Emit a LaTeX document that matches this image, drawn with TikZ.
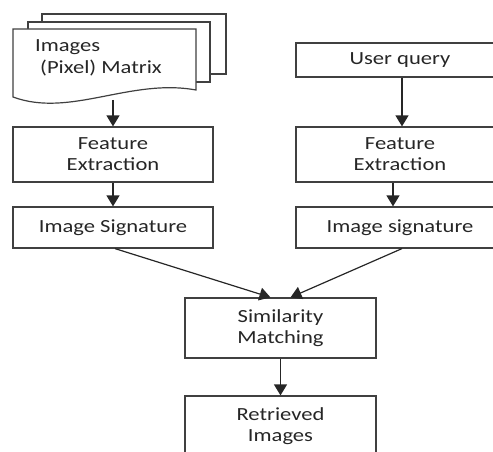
\documentclass[tikz,border=0pt]{standalone}
\usepackage{fontspec}
\setmainfont{Carlito}[FakeStretch=1.22]
\usepackage{tikz}
\usetikzlibrary{arrows.meta,positioning}

\begin{document}
\begin{tikzpicture}[x=1pt, y=-1pt,
  box/.style = {draw = black!75, line width = 1.2pt, fill = white, shape = rectangle, inner sep = 0pt, align = center, text = black!85, font = \fontsize{18.5}{21}\selectfont},
  lbl/.style = {inner sep = 0pt, anchor = base west, text = black!85, font = \fontsize{18.5}{21}\selectfont},
  flow/.style = {draw = black!85, line width = 1.2pt, -{Triangle[width = 13pt, length = 11pt]}}]
\useasboundingbox (0,0) rectangle (493,452);

% stack of pages
\draw[draw = black!75, line width = 1.2pt, fill = white] (42,74) -- (42,14) -- (226,14) -- (226,74) -- cycle;
\draw[draw = black!75, line width = 1.2pt, fill = white] (28,82) -- (28,22) -- (210,22) -- (210,82) -- cycle;
\draw[draw = black!75, line width = 1.2pt, fill = white] (13,97) -- (13,29) -- (196,29) -- (196,90)
  .. controls (130,78) and (70,118) .. (13,97) -- cycle;
\node[lbl] (doc) at (35,52) {Images};
\node[lbl] (docb) at (40,74) {(Pixel) Matrix};
\coordinate (docend) at (113,100);

% left column
\node[box, minimum width = 200pt, minimum height = 55pt] (fe1) at (113,154.5) {Feature\\Extraction};
\node[box, minimum width = 200pt, minimum height = 41pt] (sig1) at (113,227.5) {Image Signature};

% right column
\node[box, minimum width = 208pt, minimum height = 34pt] (uq) at (400,60) {User query};
\node[box, minimum width = 208pt, minimum height = 55pt] (fe2) at (400,154.5) {Feature\\Extraction};
\node[box, minimum width = 208pt, minimum height = 41pt] (sig2) at (400,227.5) {Image signature};

% matching
\node[box, minimum width = 191pt, minimum height = 60pt] (sim) at (280.5,328) {Similarity\\Matching};
\node[box, minimum width = 191pt, minimum height = 60pt] (ret) at (280.5,426) {Retrieved\\Images};

\draw[flow] (docend) -- (fe1.north);
\draw[flow] (fe1) -- (sig1);
\draw[flow] ([xshift = 2pt]uq.south) -- ([xshift = 2pt]fe2.north);
\draw[flow] ([xshift = -7pt]fe2.south) -- ([xshift = -7pt]sig2.north);
\draw[flow] ([xshift = 2pt]sig1.south) -- ([xshift = -10pt]sim.north);
\draw[flow] ([xshift = 2pt]sig2.south) -- ([xshift = 10pt]sim.north);
\draw[flow] (sim) -- (ret);
\end{tikzpicture}
\end{document}
